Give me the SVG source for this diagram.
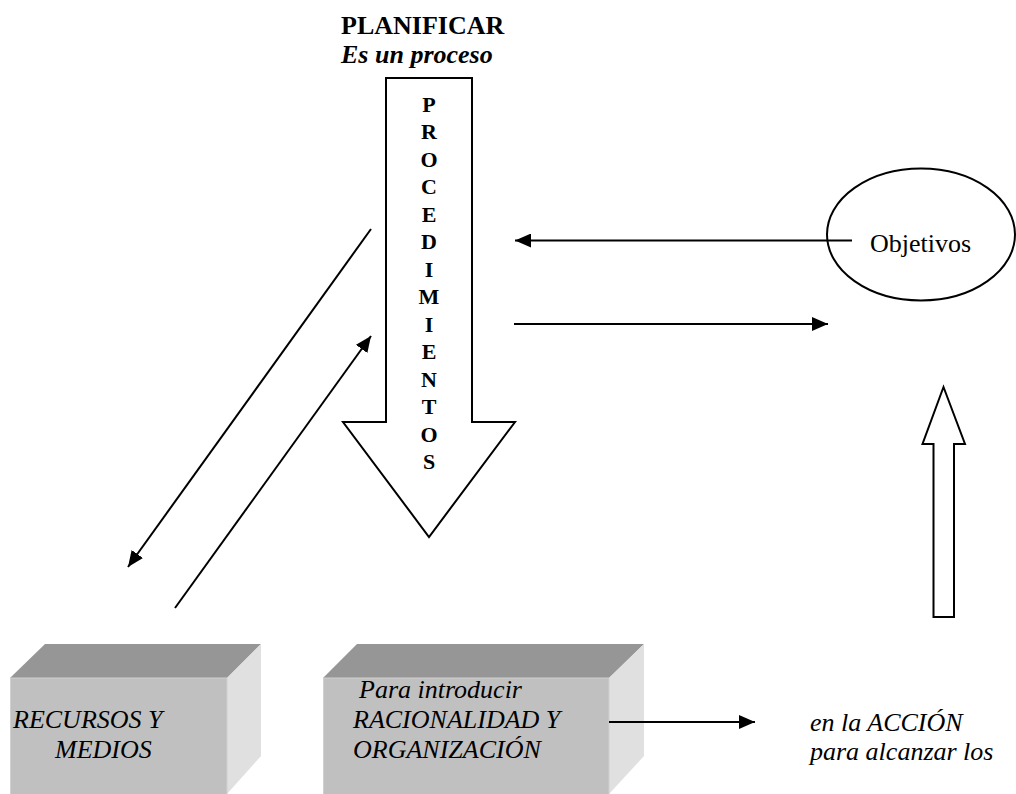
<svg xmlns="http://www.w3.org/2000/svg" width="1016" height="794" viewBox="0 0 1016 794">
<defs>
<style>
.t{font-family:"Liberation Serif","Times New Roman",serif;fill:#000}
.big{font-size:26px}
.b{font-weight:bold}
.i{font-style:italic}
.col{font-size:22px;font-weight:bold;text-anchor:middle}
.ln{stroke:#000;stroke-width:2;fill:none}
.shape{stroke:#000;stroke-width:2;fill:#fff;stroke-linejoin:miter}
.topf{fill:#969696}
.front{fill:#c0c0c0;stroke:#d0d0d0;stroke-width:1}
.side{fill:#e0e0e0}
</style>
<marker id="ah" viewBox="0 0 16 14" markerWidth="16" markerHeight="14" refX="16" refY="7" orient="auto" markerUnits="userSpaceOnUse">
<path d="M0,0 L16,7 L0,14 z" fill="#000"/>
</marker>
</defs>
<rect width="1016" height="794" fill="#fff"/>

<g id="titulo">
<text class="t big b" x="341" y="34">PLANIFICAR</text>
<text class="t big b i" x="341" y="63">Es un proceso</text>
</g>

<g id="procedimientos">
<path class="shape" d="M386,78 L472,78 L472,422 L515,422 L429,537 L343,422 L386,422 Z"/>
<text class="t col" x="429" y="111.5">P</text>
<text class="t col" x="429" y="139">R</text>
<text class="t col" x="429" y="166.5">O</text>
<text class="t col" x="429" y="194">C</text>
<text class="t col" x="429" y="221.5">E</text>
<text class="t col" x="429" y="249">D</text>
<text class="t col" x="429" y="276.5">I</text>
<text class="t col" x="429" y="304">M</text>
<text class="t col" x="429" y="331.5">I</text>
<text class="t col" x="429" y="359">E</text>
<text class="t col" x="429" y="386.5">N</text>
<text class="t col" x="429" y="414">T</text>
<text class="t col" x="429" y="441.5">O</text>
<text class="t col" x="429" y="469">S</text>
</g>

<g id="objetivos">
<ellipse class="ln" cx="921" cy="234.5" rx="94" ry="66"/>
<text class="t big" x="870" y="252">Objetivos</text>
</g>

<g id="flecha-arriba">
<path class="shape" d="M933.5,617 L954,617 L954,444 L965,444 L943.5,387 L922.5,444 L933.5,444 Z"/>
</g>

<g id="recursos">
<polygon class="topf" points="10,678 45,644 261,644 227,678"/>
<polygon class="side" points="227,678 261,644 261,756 227,794"/>
<rect class="front" x="10.5" y="678" width="216.5" height="120"/>
<text class="t big i" x="13" y="728">RECURSOS Y</text>
<text class="t big i" x="55" y="758">MEDIOS</text>
</g>

<g id="racionalidad">
<polygon class="topf" points="323,678 357,644 644,644 609,678"/>
<polygon class="side" points="609,678 644,644 644,756 609,794"/>
<rect class="front" x="323.5" y="678" width="285.5" height="120"/>
<text class="t big i" x="359" y="698">Para introducir</text>
<text class="t big i" x="353" y="728">RACIONALIDAD Y</text>
<text class="t big i" x="353" y="758">ORGANIZACIÓN</text>
</g>

<g id="accion">
<text class="t big i" x="810" y="731">en la ACCIÓN</text>
<text class="t big i" x="810" y="760">para alcanzar los</text>
</g>

<g id="conectores">
<line class="ln" x1="371" y1="229" x2="128" y2="567" marker-end="url(#ah)"/>
<line class="ln" x1="175" y1="608" x2="371" y2="336" marker-end="url(#ah)"/>
<line class="ln" x1="852" y1="240.5" x2="515" y2="240.5" marker-end="url(#ah)"/>
<line class="ln" x1="514" y1="324" x2="828" y2="324" marker-end="url(#ah)"/>
<line class="ln" x1="609" y1="722" x2="755" y2="722" marker-end="url(#ah)"/>
</g>
</svg>
